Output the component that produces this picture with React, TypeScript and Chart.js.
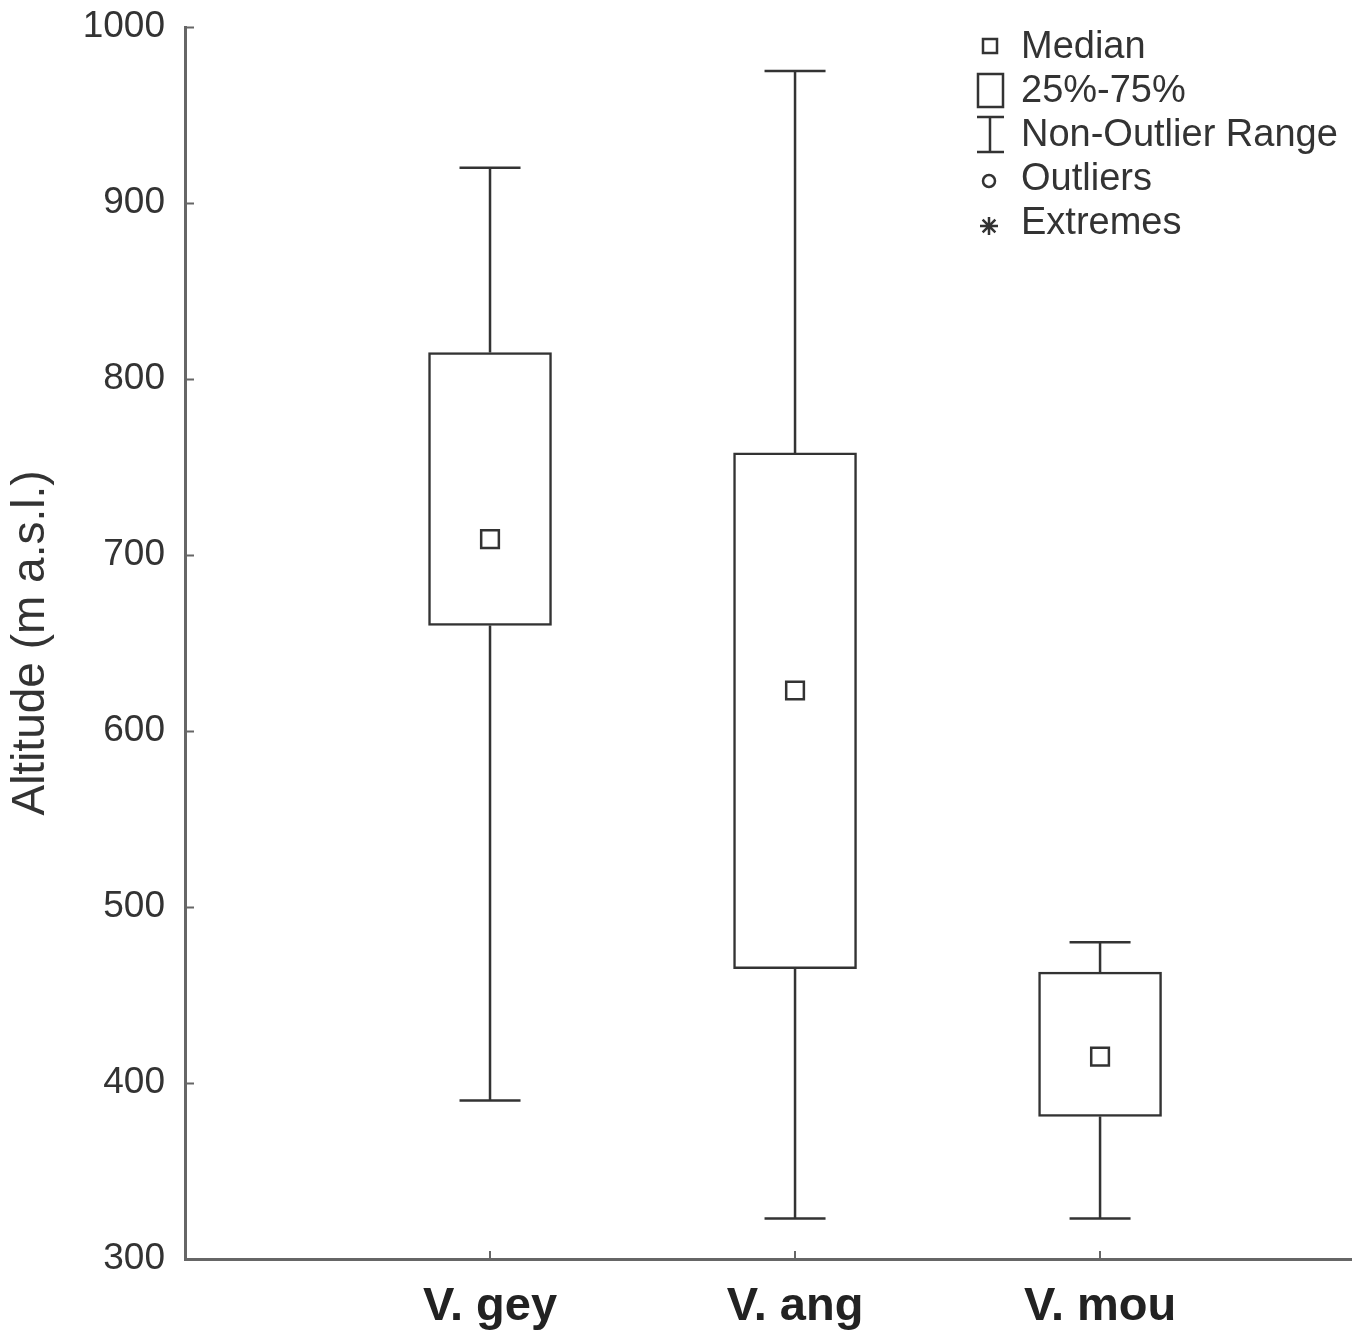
import React, { useEffect, useRef } from "react";
import { Chart, registerables } from "chart.js";
Chart.register(...registerables);

// ---- data ----
const categories = ["V. gey", "V. ang", "V. mou"];
const whiskerMin = [390, 323, 323];
const q1 = [660, 465, 381];
const median = [709, 623, 415];
const q3 = [815, 758, 463];
const whiskerMax = [920, 975, 480];
const yTicks = [300, 400, 500, 600, 700, 800, 900, 1000];
const legendLabels = ["Median", "25%-75%", "Non-Outlier Range", "Outliers", "Extremes"];
const yTitle = "Altitude (m a.s.l.)";

const FONT = "'Liberation Sans', Arial, Helvetica, sans-serif";
const INK = "#333333";
const AXIS = "#666666";
const CAP_HALF = 0.1;

const stemData: any[] = [];
const capData: any[] = [];
categories.forEach((_, i) => {
  const c = i + 1;
  stemData.push({ x: c, y: q3[i] }, { x: c, y: whiskerMax[i] }, { x: c, y: null });
  stemData.push({ x: c, y: whiskerMin[i] }, { x: c, y: q1[i] }, { x: c, y: null });
  capData.push({ x: c - CAP_HALF, y: whiskerMax[i] }, { x: c + CAP_HALF, y: whiskerMax[i] }, { x: c, y: null });
  capData.push({ x: c - CAP_HALF, y: whiskerMin[i] }, { x: c + CAP_HALF, y: whiskerMin[i] }, { x: c, y: null });
});

const overlayPlugin = {
  id: "overlay",
  afterDraw(chart: any) {
    const { ctx, chartArea: ca } = chart;
    const xs = chart.scales.x;
    const ys = chart.scales.y;
    ctx.save();
    // inward tick marks
    ctx.strokeStyle = AXIS;
    ctx.lineWidth = 2;
    ctx.beginPath();
    yTicks.forEach((v) => {
      const py = Math.round(ys.getPixelForValue(v)) + 0.5;
      ctx.moveTo(ca.left, py);
      ctx.lineTo(ca.left + 9, py);
    });
    categories.forEach((_, i) => {
      const px = Math.round(xs.getPixelForValue(i + 1));
      ctx.moveTo(px, ca.bottom);
      ctx.lineTo(px, ca.bottom - 8);
    });
    ctx.stroke();

    // legend
    const sx = 990;
    const tx = 1021;
    const rows = [46, 90, 134, 178, 222];
    ctx.strokeStyle = INK;
    ctx.lineWidth = 2.5;
    // median square
    ctx.strokeRect(sx - 7, rows[0] - 7, 14, 14);
    // box
    ctx.strokeRect(sx - 12, rows[1] - 16, 25, 33);
    // whisker I
    ctx.beginPath();
    ctx.moveTo(sx - 13, rows[2] - 17);
    ctx.lineTo(sx + 14, rows[2] - 17);
    ctx.moveTo(sx, rows[2] - 17);
    ctx.lineTo(sx, rows[2] + 18);
    ctx.moveTo(sx - 13, rows[2] + 18);
    ctx.lineTo(sx + 14, rows[2] + 18);
    ctx.stroke();
    // circle
    ctx.beginPath();
    ctx.arc(sx - 1, rows[3] + 3, 6, 0, Math.PI * 2);
    ctx.stroke();
    // asterisk
    ctx.beginPath();
    const ay = rows[4] + 4;
    const r = 9;
    for (let k = 0; k < 4; k++) {
      const a = (k * Math.PI) / 4;
      ctx.moveTo(sx - 1 - r * Math.cos(a), ay - r * Math.sin(a));
      ctx.lineTo(sx - 1 + r * Math.cos(a), ay + r * Math.sin(a));
    }
    ctx.stroke();
    // labels
    ctx.fillStyle = INK;
    ctx.font = `38px ${FONT}`;
    ctx.textAlign = "left";
    ctx.textBaseline = "middle";
    legendLabels.forEach((t, i) => ctx.fillText(t, tx, rows[i] + 2));
    ctx.restore();
  },
};

export default function App() {
  const ref = useRef<HTMLCanvasElement | null>(null);
  useEffect(() => {
    document.body.style.margin = "0";
    document.body.style.overflow = "hidden";
    const canvas = ref.current;
    if (!canvas) return;
    const chart = new Chart(canvas, {
      type: "bar",
      data: {
        datasets: [
          {
            type: "line",
            label: "Median",
            data: categories.map((_, i) => ({ x: i + 1, y: median[i] })),
            showLine: false,
            pointStyle: "rect",
            pointRadius: 12.5,
            pointBorderWidth: 2.5,
            pointBackgroundColor: "#ffffff",
            pointBorderColor: INK,
          } as any,
          {
            type: "bar",
            label: "25%-75%",
            data: categories.map((_, i) => ({ x: i + 1, y: [q1[i], q3[i]] })) as any,
            backgroundColor: "#ffffff",
            borderColor: INK,
            borderWidth: 2.5,
            borderSkipped: false,
            barThickness: 123,
          } as any,
          {
            type: "line",
            label: "stems",
            data: stemData,
            borderColor: INK,
            borderWidth: 2.5,
            pointRadius: 0,
            spanGaps: false,
          } as any,
          {
            type: "line",
            label: "caps",
            data: capData,
            borderColor: INK,
            borderWidth: 2.5,
            pointRadius: 0,
            spanGaps: false,
          } as any,
        ],
      },
      options: {
        animation: false,
        responsive: false,
        maintainAspectRatio: false,
        devicePixelRatio: 1,
        layout: { autoPadding: false, padding: { top: 27, left: 0, right: 0, bottom: 0 } },
        plugins: { legend: { display: false }, tooltip: { enabled: false } },
        scales: {
          x: {
            type: "linear",
            offset: false,
            min: 0,
            max: 3.826,
            grid: { display: false, drawTicks: true, tickLength: 20, offset: false },
            border: { display: true, color: AXIS, width: 3 },
            afterBuildTicks: (scale: any) => {
              scale.ticks = categories.map((_, i) => ({ value: i + 1 }));
            },
            afterFit: (scale: any) => {
              scale.height = 71;
              scale.paddingLeft = 0;
              scale.paddingRight = 0;
            },
            ticks: {
              autoSkip: false,
              maxRotation: 0,
              padding: 0,
              color: "#222222",
              font: { family: FONT, size: 47, weight: "bold" },
              callback: (v: any) => categories[Number(v) - 1] ?? "",
            },
          },
          y: {
            type: "linear",
            min: 300,
            max: 1000,
            grid: { display: false, drawTicks: true, tickLength: 20 },
            border: { display: true, color: AXIS, width: 3 },
            afterFit: (scale: any) => {
              scale.width = 185;
            },
            afterBuildTicks: (scale: any) => {
              scale.ticks = yTicks.map((v) => ({ value: v }));
            },
            ticks: {
              padding: 0,
              color: INK,
              font: { family: FONT, size: 37 },
              callback: (v: any) => String(v),
            },
            title: {
              display: true,
              text: yTitle,
              color: INK,
              padding: { top: 4, bottom: 0 },
              font: { family: FONT, size: 46 },
            },
          },
        },
      } as any,
      plugins: [overlayPlugin],
    });
    return () => chart.destroy();
  }, []);
  return (
    <div style={{ position: "absolute", left: 0, top: 0, width: 1352, height: 1330, background: "#fff", overflow: "hidden" }}>
      <canvas ref={ref} width={1352} height={1330} style={{ display: "block", width: 1352, height: 1330 }} />
    </div>
  );
}
